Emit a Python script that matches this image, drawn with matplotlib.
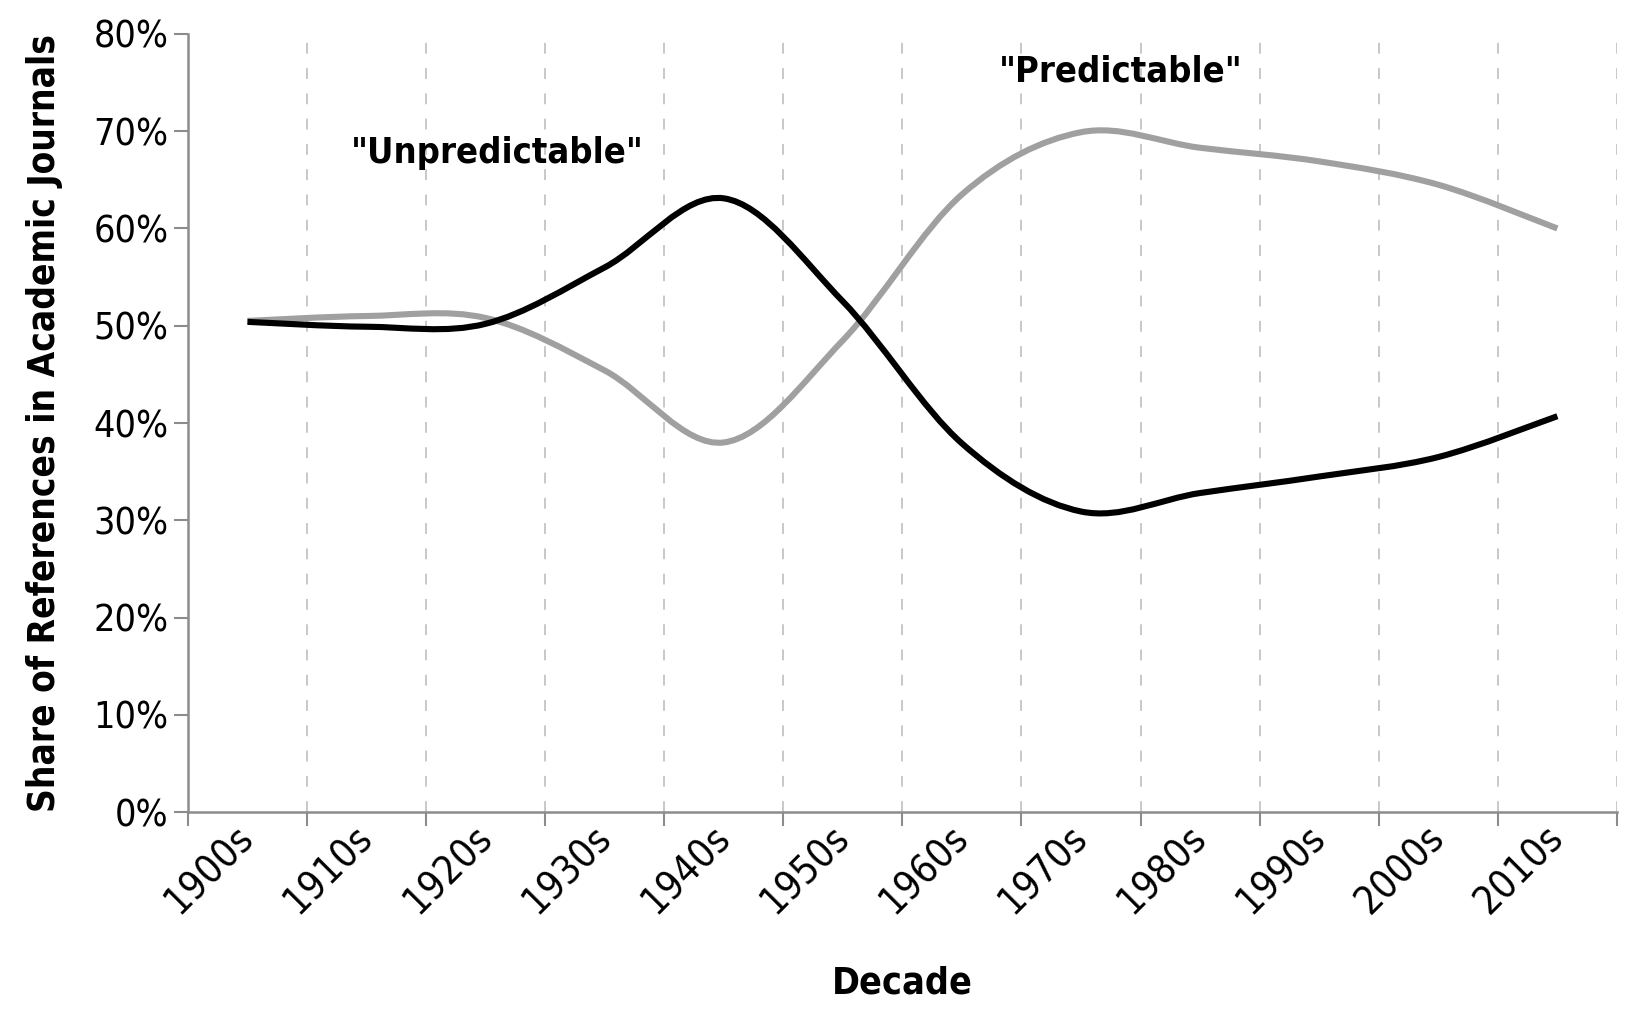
import numpy as np
import matplotlib
matplotlib.use("Agg")
import matplotlib.pyplot as plt
from matplotlib.path import Path
from matplotlib.patches import PathPatch
from matplotlib.transforms import ScaledTranslation

plt.rcParams['font.family'] = ['DejaVu Sans']
plt.rcParams['font.stretch'] = 'condensed'

# Datos
decades = ["1900s", "1910s", "1920s", "1930s", "1940s", "1950s",
           "1960s", "1970s", "1980s", "1990s", "2000s", "2010s"]
unpredictable = [50.4, 49.9, 50.2, 56.0, 63.1, 52.5, 37.9, 30.9, 32.8, 34.5, 36.5, 40.7]
predictable = [50.5, 51.0, 50.8, 45.4, 38.0, 48.5, 63.5, 69.9, 68.3, 66.9, 64.5, 60.0]


def smooth_path(xs, ys):
    # curva suavizada estilo Excel (Catmull-Rom como Bezier)
    pts = np.column_stack([xs, ys]).astype(float)
    verts = [pts[0]]
    codes = [Path.MOVETO]
    n = len(pts)
    for i in range(n - 1):
        p0 = pts[max(i - 1, 0)]
        p1 = pts[i]
        p2 = pts[i + 1]
        p3 = pts[min(i + 2, n - 1)]
        c1 = p1 + (p2 - p0) / 6.0
        c2 = p2 - (p3 - p1) / 6.0
        verts += [c1, c2, p2]
        codes += [Path.CURVE4] * 3
    return Path(verts, codes)


x = np.arange(len(decades))

fig = plt.figure(figsize=(16.27, 10.11), dpi=100)
ax = fig.add_axes([0.1155, 0.1968, 0.8783, 0.7696])

ax.add_patch(PathPatch(smooth_path(x, predictable), fill=False, edgecolor='#a0a0a0',
                       lw=4.4, capstyle='butt', joinstyle='round', zorder=3))
ax.add_patch(PathPatch(smooth_path(x, unpredictable), fill=False, edgecolor='black',
                       lw=4.4, capstyle='butt', joinstyle='round', zorder=4))

ax.set_xlim(-0.5, len(decades) - 0.5)
ax.set_ylim(0, 80)

ax.set_yticks(np.arange(0, 81, 10))
ax.set_yticklabels([f"{v}%" for v in range(0, 81, 10)], fontsize=27)

ax.set_xticks(x)
ax.set_xticklabels(decades, fontsize=28, rotation=45, ha='right', va='center',
                   rotation_mode='anchor')
offset = ScaledTranslation(0.2, -0.17, fig.dpi_scale_trans)
for lab in ax.get_xticklabels():
    lab.set_transform(lab.get_transform() + offset)

ax.set_xticks(np.arange(-0.5, len(decades)), minor=True)
ax.tick_params(axis='x', which='major', length=0, pad=14)
ax.tick_params(axis='x', which='minor', length=10, width=1.5, color='#8c8c8c')
ax.tick_params(axis='y', length=10, width=1.5, color='#8c8c8c', pad=4)
ax.grid(axis='x', which='minor', color='#c4c4c4', linestyle=(0, (6, 8)), lw=1.3)
ax.set_axisbelow(True)

for s in ['top', 'right']:
    ax.spines[s].set_visible(False)
for s in ['left', 'bottom']:
    ax.spines[s].set_color('#8c8c8c')
    ax.spines[s].set_linewidth(1.8)

ax.set_ylabel("Share of References in Academic Journals", fontsize=26.5,
              fontweight='bold', labelpad=22)
ax.set_xlabel("Decade", fontsize=27, fontweight='bold', labelpad=32)

ax.text(2.1, 67.8, '"Unpredictable"', fontsize=26, fontweight='bold',
        ha='center', va='center')
ax.text(7.33, 76.1, '"Predictable"', fontsize=26, fontweight='bold',
        ha='center', va='center')

fig.savefig("out.png", dpi=100, facecolor='white')
